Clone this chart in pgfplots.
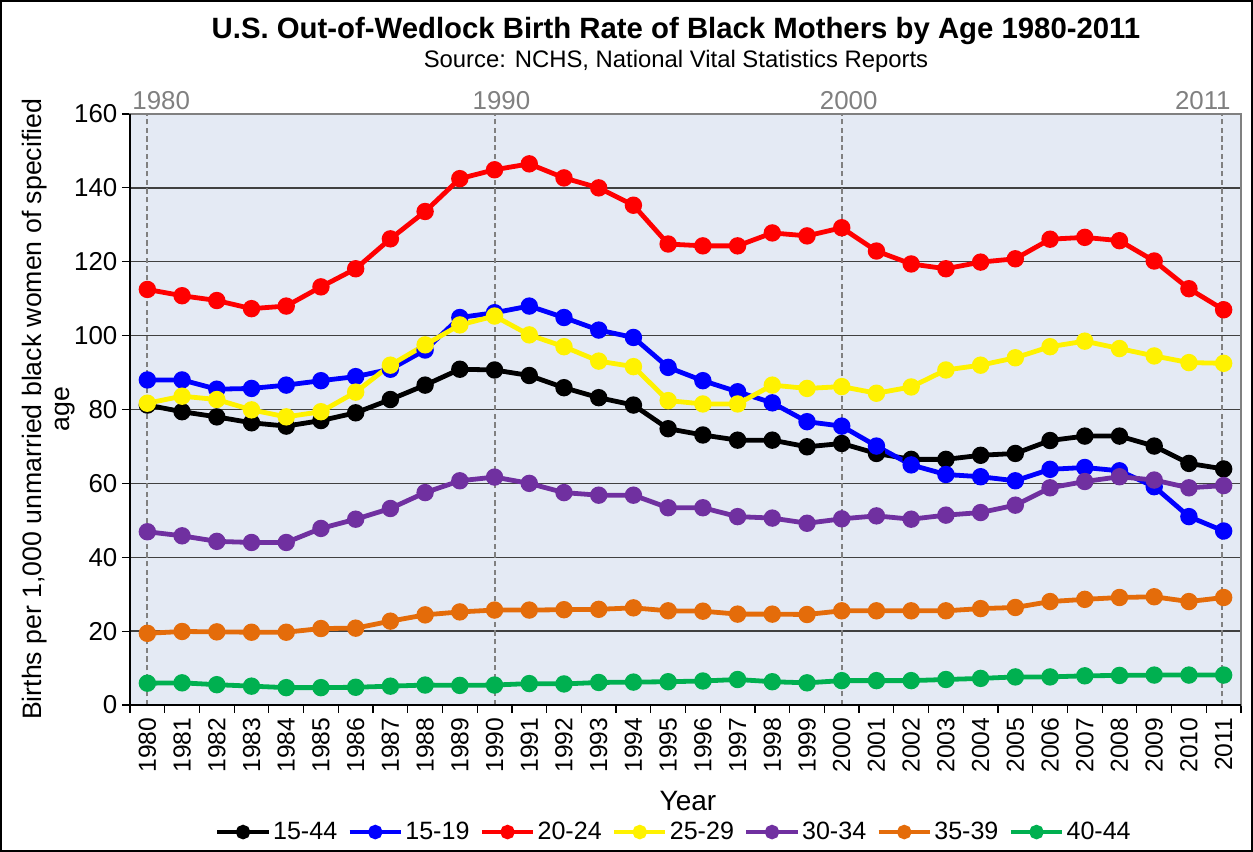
\documentclass[border=0pt]{standalone}
\usepackage{pgfplots}
\usepackage{pgfplotstable}
\pgfplotsset{compat=1.18}
\usepackage{fontspec}
\setmainfont{Liberation Sans}
\definecolor{bgc}{RGB}{228,234,244}
\definecolor{cpurple}{RGB}{112,48,160}
\definecolor{corange}{RGB}{228,108,10}
\definecolor{cgreen}{RGB}{0,176,80}
\definecolor{cgray}{RGB}{128,128,128}
\pgfplotstableread{
year a b c d e f g
1980 81.2 88.0 112.5 81.7 46.9 19.4 5.9
1981 79.4 88.0 110.8 83.6 45.8 19.9 6.0
1982 78.0 85.5 109.5 82.7 44.3 19.8 5.5
1983 76.4 85.7 107.3 79.9 44.0 19.7 5.1
1984 75.5 86.6 108.0 78.0 44.0 19.7 4.7
1985 77.0 87.8 113.2 79.4 47.8 20.7 4.7
1986 79.1 88.9 118.1 84.7 50.3 20.8 4.8
1987 82.7 90.9 126.2 92.0 53.2 22.7 5.1
1988 86.6 96.1 133.6 97.5 57.5 24.4 5.4
1989 90.9 104.9 142.5 102.9 60.7 25.2 5.3
1990 90.7 106.2 144.9 105.3 61.7 25.7 5.4
1991 89.2 108.0 146.5 100.2 60.0 25.7 5.8
1992 85.9 104.9 142.7 97.0 57.5 25.8 5.7
1993 83.2 101.5 140.0 93.1 56.8 25.9 6.1
1994 81.2 99.5 135.3 91.6 56.8 26.3 6.2
1995 74.8 91.4 124.8 82.4 53.4 25.5 6.3
1996 73.1 87.8 124.3 81.5 53.4 25.4 6.5
1997 71.7 84.8 124.3 81.5 51.0 24.6 6.9
1998 71.7 81.8 127.8 86.6 50.6 24.6 6.3
1999 69.9 76.7 127.0 85.7 49.2 24.5 6.0
2000 70.8 75.5 129.2 86.2 50.4 25.5 6.6
2001 68.1 70.1 122.9 84.4 51.2 25.5 6.6
2002 66.5 65.0 119.4 86.1 50.3 25.5 6.6
2003 66.5 62.4 118.1 90.7 51.4 25.5 6.9
2004 67.6 61.8 119.9 92.0 52.1 26.1 7.2
2005 68.1 60.7 120.8 94.0 54.1 26.4 7.6
2006 71.6 63.8 126.1 97.0 58.8 28.0 7.6
2007 72.8 64.3 126.6 98.5 60.5 28.6 7.9
2008 72.8 63.4 125.7 96.5 61.8 29.1 8.0
2009 70.1 59.1 120.2 94.5 60.9 29.3 8.1
2010 65.4 51.0 112.7 92.7 58.8 28.0 8.1
2011 63.9 47.1 107.0 92.5 59.4 29.1 8.1
}\datatable
\begin{document}
\begin{tikzpicture}
\useasboundingbox (0,0) rectangle (939.75pt,639pt);
\draw[line width=1.3pt] (1pt,1pt) rectangle (938.75pt,638pt);
\node[font=\bfseries\fontsize{22}{24}\selectfont] at (507pt,615.5pt) {U.S. Out-of-Wedlock Birth Rate of Black Mothers by Age 1980-2011};
\node[font=\fontsize{17.9}{20}\selectfont] at (507pt,593pt) {Source: NCHS, National Vital Statistics Reports};
\node[rotate=90, align=center, font=\fontsize{20}{20.5}\selectfont] at (36.5pt,332pt) {Births per 1,000 unmarried black women of specified\\age};
\node[font=\fontsize{21}{23}\selectfont] at (516pt,38pt) {Year};
\begin{axis}[
  at={(97.5pt,110.25pt)}, anchor=south west,
  scale only axis, width=833.25pt, height=443.25pt,
  xmin=1979.5, xmax=2011.5, ymin=0, ymax=160,
  ytick={0,20,...,160},
  xtick={1979.5,1980.5,...,2011.5},
  xticklabels={1980,1981,1982,1983,1984,1985,1986,1987,1988,1989,1990,1991,1992,1993,1994,1995,1996,1997,1998,1999,2000,2001,2002,2003,2004,2005,2006,2007,2008,2009,2010,2011},
  x tick label as interval,
  x tick label style={rotate=90, anchor=east, font=\fontsize{18.5}{20}\selectfont},
  y tick label style={font=\fontsize{19.4}{21}\selectfont},
  /pgf/number format/assume math mode=true,
  tick align=outside, tick pos=left,
  major tick length=6pt,
  tick style={black, line width=0.9pt},
  ymajorgrids, major grid style={black!75, line width=1.1pt},
  axis line style={draw=cgray, line width=1.3pt},
  axis background/.style={fill=bgc},
  clip=false,
  every axis plot/.append style={line width=3.6pt, mark=*, mark size=4.7pt},
  legend style={at={(0.4895,-0.215)}, anchor=center, legend columns=7, draw=none, fill=none,
    font=\fontsize{18.8}{20}\selectfont, column sep=0pt,
    nodes={inner xsep=1.5pt},
    /tikz/every odd column/.append style={column sep=0pt},
    /tikz/every even column/.append style={column sep=6pt}},
  legend image code/.code={\draw[line width=3.6pt] (0pt,0pt) -- (38.5pt,0pt); \fill (19.25pt,0pt) circle (3.6pt);},
]
\draw[cgray, line width=1.5pt, dash pattern=on 4pt off 2.5pt] (axis cs:1980,0) -- (axis cs:1980,160);
\draw[cgray, line width=1.5pt, dash pattern=on 4pt off 2.5pt] (axis cs:1990,0) -- (axis cs:1990,160);
\draw[cgray, line width=1.5pt, dash pattern=on 4pt off 2.5pt] (axis cs:2000,0) -- (axis cs:2000,160);
\draw[cgray, line width=1.5pt, dash pattern=on 4pt off 2.5pt] (axis cs:2010.95,0) -- (axis cs:2010.95,160);
\addplot[color=black] table[x=year,y=a] {\datatable};
\addlegendentry{15-44}
\addplot[color=blue] table[x=year,y=b] {\datatable};
\addlegendentry{15-19}
\addplot[color=red] table[x=year,y=c] {\datatable};
\addlegendentry{20-24}
\addplot[color=yellow] table[x=year,y=d] {\datatable};
\addlegendentry{25-29}
\addplot[color=cpurple] table[x=year,y=e] {\datatable};
\addlegendentry{30-34}
\addplot[color=corange] table[x=year,y=f] {\datatable};
\addlegendentry{35-39}
\addplot[color=cgreen] table[x=year,y=g] {\datatable};
\addlegendentry{40-44}
\draw[black, line width=1.4pt] (rel axis cs:0,1) -- (rel axis cs:0,0) -- (rel axis cs:1,0);
\node[anchor=base, cgray, font=\fontsize{19.4}{21}\selectfont] at (axis cs:1980.4,160) [yshift=3pt] {1980};
\node[anchor=base, cgray, font=\fontsize{19.4}{21}\selectfont] at (axis cs:1990.2,160) [yshift=3pt] {1990};
\node[anchor=base, cgray, font=\fontsize{19.4}{21}\selectfont] at (axis cs:2000.2,160) [yshift=3pt] {2000};
\node[anchor=base, cgray, font=\fontsize{19.4}{21}\selectfont] at (axis cs:2010.4,160) [yshift=3pt] {2011};
\end{axis}
\end{tikzpicture}
\end{document}
